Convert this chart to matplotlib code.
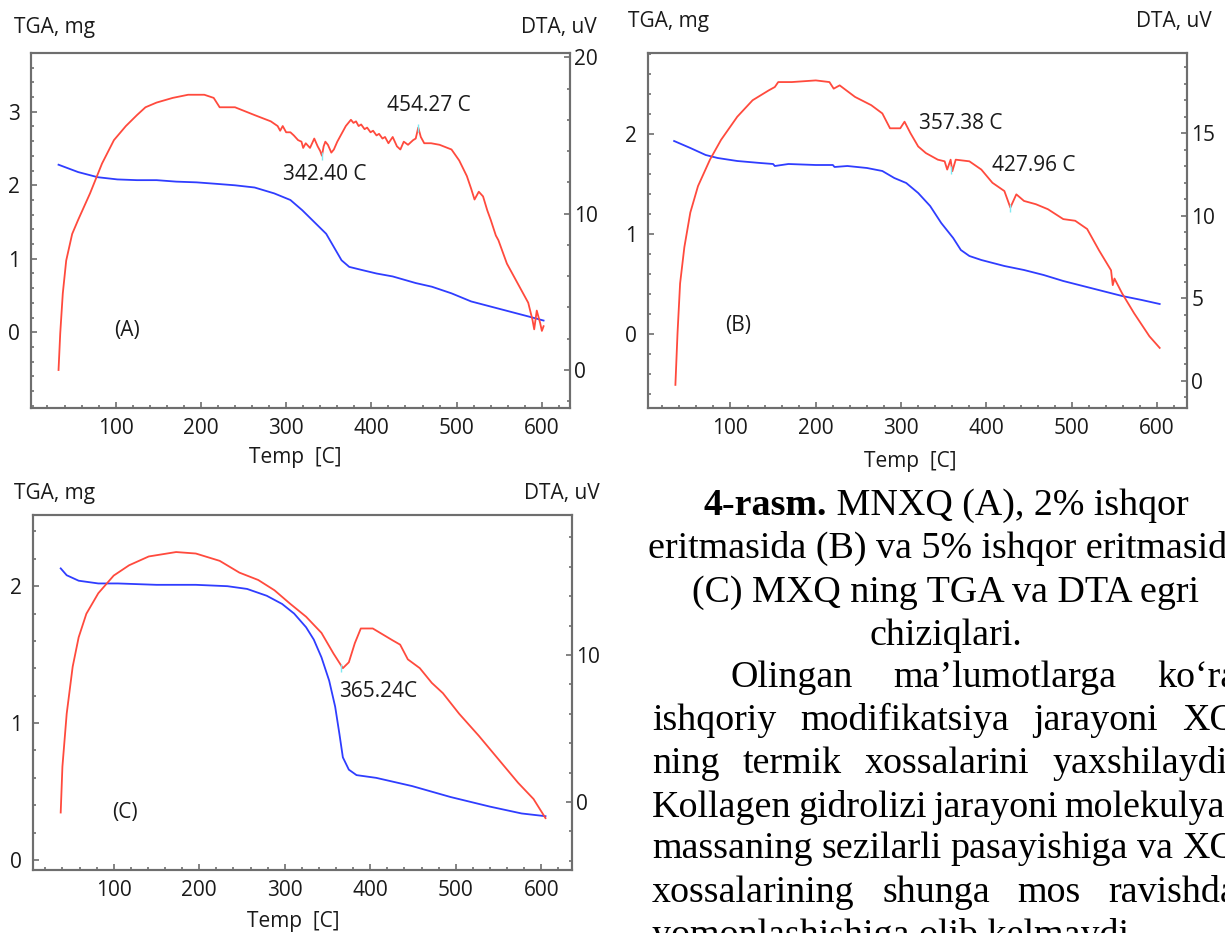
import matplotlib.pyplot as plt
import numpy as np
from matplotlib.ticker import MultipleLocator, FixedLocator
from matplotlib.transforms import IdentityTransform

W, H = 1225, 933

# ---- panel A: MNXQ ----
a_tga_t = [33, 56, 79, 102, 125, 148, 171, 195, 218, 240, 263, 286, 305, 319, 333, 347,
           356, 365, 374, 388, 406, 425, 452, 471, 494, 517, 540, 563, 586, 602]
a_tga = [2.28, 2.18, 2.11, 2.08, 2.07, 2.07, 2.05, 2.04, 2.02, 2.00, 1.97, 1.89, 1.80, 1.66,
         1.50, 1.34, 1.16, 0.98, 0.89, 0.85, 0.80, 0.76, 0.67, 0.62, 0.53, 0.42, 0.35, 0.28,
         0.21, 0.16]
a_dta_t = [33, 35, 38, 42, 49, 56, 70, 84, 98, 112, 125, 135, 148, 167, 185, 204, 215, 222,
           240, 263, 282, 290, 293, 296, 300, 305, 309, 314, 318, 320, 323, 328, 333, 337, 340,
           342, 344, 346, 349, 353, 356, 360, 365, 370, 376, 379, 382, 385, 388, 392, 395, 399,
           402, 406, 409, 413, 416, 420, 425, 430, 434, 438, 443, 449, 452, 455, 458, 462, 470,
           480, 494, 503, 512, 517, 521, 526, 531, 536, 540, 546, 549, 559, 572, 584, 589, 591,
           594, 598, 600, 602]
a_dta = [0.0, 2.35, 4.9, 7.0, 8.7, 9.6, 11.3, 13.2, 14.7, 15.6, 16.3, 16.8, 17.1, 17.4, 17.6,
         17.6, 17.4, 16.8, 16.8, 16.3, 15.9, 15.6, 15.3, 15.6, 15.2, 15.2, 15.0, 14.7, 14.6,
         14.2, 14.5, 14.2, 14.8, 14.3, 14.0, 13.7, 14.3, 14.6, 14.4, 13.9, 14.1, 14.6, 15.1,
         15.6, 16.0, 15.8, 15.9, 15.6, 15.7, 15.4, 15.5, 15.2, 15.3, 15.0, 15.1, 14.8, 14.9,
         14.5, 14.9, 14.3, 14.1, 14.6, 14.4, 14.7, 14.8, 15.5, 14.9, 14.5, 14.5, 14.4, 14.1,
         13.4, 12.4, 11.6, 10.9, 11.4, 11.1, 10.2, 9.6, 8.6, 8.3, 6.8, 5.5, 4.3, 3.2, 2.6, 3.8,
         3.0, 2.5, 2.8]
a_peaks_t = [342, 455]
a_peaks = [13.7, 15.5]

# ---- panel B: 2% ishqor ----
b_tga_t = [34, 53, 71, 85, 108, 135, 150, 152, 168, 200, 220, 222, 237, 260, 278, 292, 306,
           320, 334, 347, 361, 370, 380, 394, 421, 444, 467, 490, 513, 536, 559, 582, 603]
b_tga = [1.93, 1.86, 1.79, 1.76, 1.73, 1.71, 1.70, 1.68, 1.70, 1.69, 1.69, 1.67, 1.68, 1.66,
         1.63, 1.56, 1.51, 1.41, 1.28, 1.11, 0.96, 0.84, 0.78, 0.74, 0.68, 0.64, 0.59, 0.53,
         0.48, 0.43, 0.38, 0.34, 0.30]
b_dta_t = [35.5, 38, 41, 46, 53, 62, 76, 89, 108, 126, 145, 152, 156, 172, 200, 216, 221, 228,
           246, 265, 278, 287, 299, 304, 311, 320, 329, 343, 351, 354, 358, 360, 364, 380, 394,
           407, 421, 428, 435, 444, 458, 472, 490, 504, 518, 532, 546, 548, 550, 559, 573, 591,
           603]
b_dta = [-0.24, 2.9, 5.9, 8.1, 10.2, 11.8, 13.4, 14.6, 16.0, 17.0, 17.6, 17.8, 18.1, 18.1, 18.2,
         18.1, 17.7, 17.9, 17.2, 16.7, 16.2, 15.3, 15.3, 15.7, 15.0, 14.2, 13.8, 13.4, 13.3,
         12.8, 13.4, 12.7, 13.4, 13.3, 12.8, 12.0, 11.5, 10.5, 11.3, 10.9, 10.7, 10.4, 9.8, 9.7,
         9.2, 7.9, 6.7, 5.8, 6.2, 5.3, 4.1, 2.7, 2.0]
b_peaks_t = [358, 428]
b_peaks = [12.8, 10.5]

# ---- panel C: 5% ishqor ----
c_tga_t = [38, 45, 59, 82, 105, 150, 196, 233, 256, 279, 297, 311, 325, 334, 343, 352, 359,
           364, 368, 375, 384, 407, 449, 494, 540, 577, 605]
c_tga = [2.13, 2.08, 2.04, 2.02, 2.02, 2.01, 2.01, 2.00, 1.98, 1.93, 1.87, 1.80, 1.70, 1.61,
         1.48, 1.31, 1.12, 0.92, 0.75, 0.66, 0.62, 0.60, 0.54, 0.46, 0.39, 0.34, 0.32]
c_dta_t = [38, 40, 45, 52, 59, 68, 82, 100, 118, 141, 173, 196, 224, 247, 269, 288, 306, 325,
           343, 357, 368, 375, 382, 389, 403, 426, 435, 444, 458, 472, 485, 504, 527, 550, 573,
           591, 605]
c_dta = [-0.72, 2.4, 6.0, 9.2, 11.2, 12.8, 14.2, 15.4, 16.1, 16.7, 17.0, 16.9, 16.4, 15.6, 15.1,
         14.4, 13.5, 12.6, 11.5, 10.1, 9.1, 9.5, 10.8, 11.8, 11.8, 11.0, 10.7, 9.7, 9.1, 8.1,
         7.4, 6.0, 4.5, 2.9, 1.3, 0.2, -1.1]
c_peaks_t = [366]
c_peaks = [9.1]

RED = '#ff4a3d'
BLUE = '#2f3dff'
GREY = '#6e6e6e'
SANS = 'Open Sans'

fig = plt.figure(figsize=(W / 100, H / 100), dpi=100)


def rect(l, t, r, b):
    return [l / W, 1 - b / H, (r - l) / W, (b - t) / H]


def ptext(x, y, s, **kw):
    # x, y in pixels from the top-left corner
    return fig.text(x / W, 1 - y / H, s, **kw)


def panel(box, xlim, yl, yl_ticks, yr, yr_major, yr_minor,
          tga_t, tga, dta_t, dta, peaks_t, peaks, notes, tag, tag_xy):
    ax = fig.add_axes(rect(*box))
    ax2 = ax.twinx()
    ax.plot(tga_t, tga, color=BLUE, lw=1.3)
    ax2.plot(dta_t, dta, color=RED, lw=1.3)
    ax2.plot(peaks_t, peaks, ls='none', marker='|', ms=6, mew=1.0, color='#7fe8f0')
    ax.set_xlim(*xlim)
    ax.set_ylim(*yl)
    ax2.set_ylim(*yr)
    ax.xaxis.set_major_locator(MultipleLocator(100))
    ax.xaxis.set_minor_locator(MultipleLocator(20))
    ax.yaxis.set_major_locator(FixedLocator(yl_ticks))
    ax.yaxis.set_minor_locator(MultipleLocator(0.2))
    ax2.yaxis.set_major_locator(MultipleLocator(yr_major))
    ax2.yaxis.set_minor_locator(MultipleLocator(yr_minor))
    for a in (ax, ax2):
        a.tick_params(which='both', direction='in', colors=GREY, labelcolor='#1a1a1a',
                      labelsize=15, width=1.2)
        a.tick_params(which='major', length=4)
        a.tick_params(which='minor', length=2.5)
        for s in a.spines.values():
            s.set_color(GREY)
            s.set_linewidth(1.5)
        for lab in a.get_xticklabels() + a.get_yticklabels():
            lab.set_fontfamily(SANS)
    ax.tick_params(axis='y', pad=8)
    ax.tick_params(axis='x', pad=7)
    ax2.tick_params(axis='y', pad=3)
    for x, y, s in notes:
        ax2.text(x, y, s, fontsize=15, family=SANS, color='#1a1a1a', va='center', ha='left')
    ax.text(tag_xy[0], tag_xy[1], tag, fontsize=15, family=SANS, color='#1a1a1a',
            va='center', ha='left')
    return ax


panel((31, 53, 570, 408), (0.7, 633), (-1.03, 3.8), [0, 1, 2, 3], (-2.43, 20.27), 10, 2,
      a_tga_t, a_tga, a_dta_t, a_dta, a_peaks_t, a_peaks,
      [(418, 16.9, '454.27 C'), (296, 12.5, '342.40 C')], '(A)', (98, 0.03))
panel((648, 53, 1187, 408), (3.4, 635), (-0.74, 2.81), [0, 1, 2], (-1.64, 19.86), 5, 1,
      b_tga_t, b_tga, b_dta_t, b_dta, b_peaks_t, b_peaks,
      [(321, 15.6, '357.38 C'), (406, 13.05, '427.96 C')], '(B)', (94, 0.09))
panel((33, 515, 572, 870), (5.6, 636), (-0.073, 2.52), [0, 1, 2], (-4.63, 19.52), 10, 2,
      c_tga_t, c_tga, c_dta_t, c_dta, c_peaks_t, c_peaks,
      [(364, 7.5, '365.24C')], '(C)', (98, 0.35))

# axis captions
lab = dict(fontsize=15, family=SANS, color='#1a1a1a', va='center')
ptext(14, 28, 'TGA, mg', ha='left', **lab)
ptext(597, 28, 'DTA, uV', ha='right', **lab)
ptext(295, 458, 'Temp  [C]', ha='center', **lab)
ptext(628, 22, 'TGA, mg', ha='left', **lab)
ptext(1212, 22, 'DTA, uV', ha='right', **lab)
ptext(910, 462, 'Temp  [C]', ha='center', **lab)
ptext(14, 493, 'TGA, mg', ha='left', **lab)
ptext(600, 493, 'DTA, uV', ha='right', **lab)
ptext(293, 922, 'Temp  [C]', ha='center', **lab)

# ---- caption and paragraph text on the right ----
SERIF = 'Liberation Serif'
renderer = fig.canvas.get_renderer()


def put(x, base, s, size, weight='normal'):
    return fig.text(x, H - base, s, transform=IdentityTransform(), family=SERIF,
                    fontsize=size, weight=weight, va='baseline', ha='left', color='black')


def width(t):
    return t.get_window_extent(renderer).width


probe = put(0, -100, '(C) MXQ ning TGA va DTA egri', 26)
fs = 26 * 507 / width(probe)
probe.remove()

centre = 946
left, right = 652, 1237

# bold lead-in of the caption
t1 = put(0, 515, '4-rasm.', fs, 'bold')
t2 = put(0, 515, ' MNXQ (A), 2% ishqor', fs)
w1, w2 = width(t1), width(t2)
t1.set_x(centre - (w1 + w2) / 2)
t2.set_x(centre - (w1 + w2) / 2 + w1)

caption = ['eritmasida (B) va 5% ishqor eritmasida', '(C) MXQ ning TGA va DTA egri',
           'chiziqlari.']
for s, base in zip(caption, [558, 602, 645]):
    t = put(0, base, s, fs)
    t.set_x(centre - width(t) / 2)

para = [
    (731, 'Olingan ma’lumotlarga ko‘ra', True),
    (left, 'ishqoriy modifikatsiya jarayoni XQ', True),
    (left, 'ning termik xossalarini yaxshilaydi.', True),
    (left, 'Kollagen gidrolizi jarayoni molekulyar', True),
    (left, 'massaning sezilarli pasayishiga va XQ', True),
    (left, 'xossalarining shunga mos ravishda', True),
    (left, 'yomonlashishiga olib kelmaydi.', False),
]
for (x0, s, justify), base in zip(para, [687, 730, 773, 817, 858, 902, 945]):
    if not justify:
        put(x0, base, s, fs)
        continue
    words = [put(0, base, w, fs) for w in s.split()]
    ws = [width(t) for t in words]
    gap = (right - x0 - sum(ws)) / (len(words) - 1)
    x = x0
    for t, w in zip(words, ws):
        t.set_x(x)
        x += w + gap

fig.savefig('out.png', dpi=100)
